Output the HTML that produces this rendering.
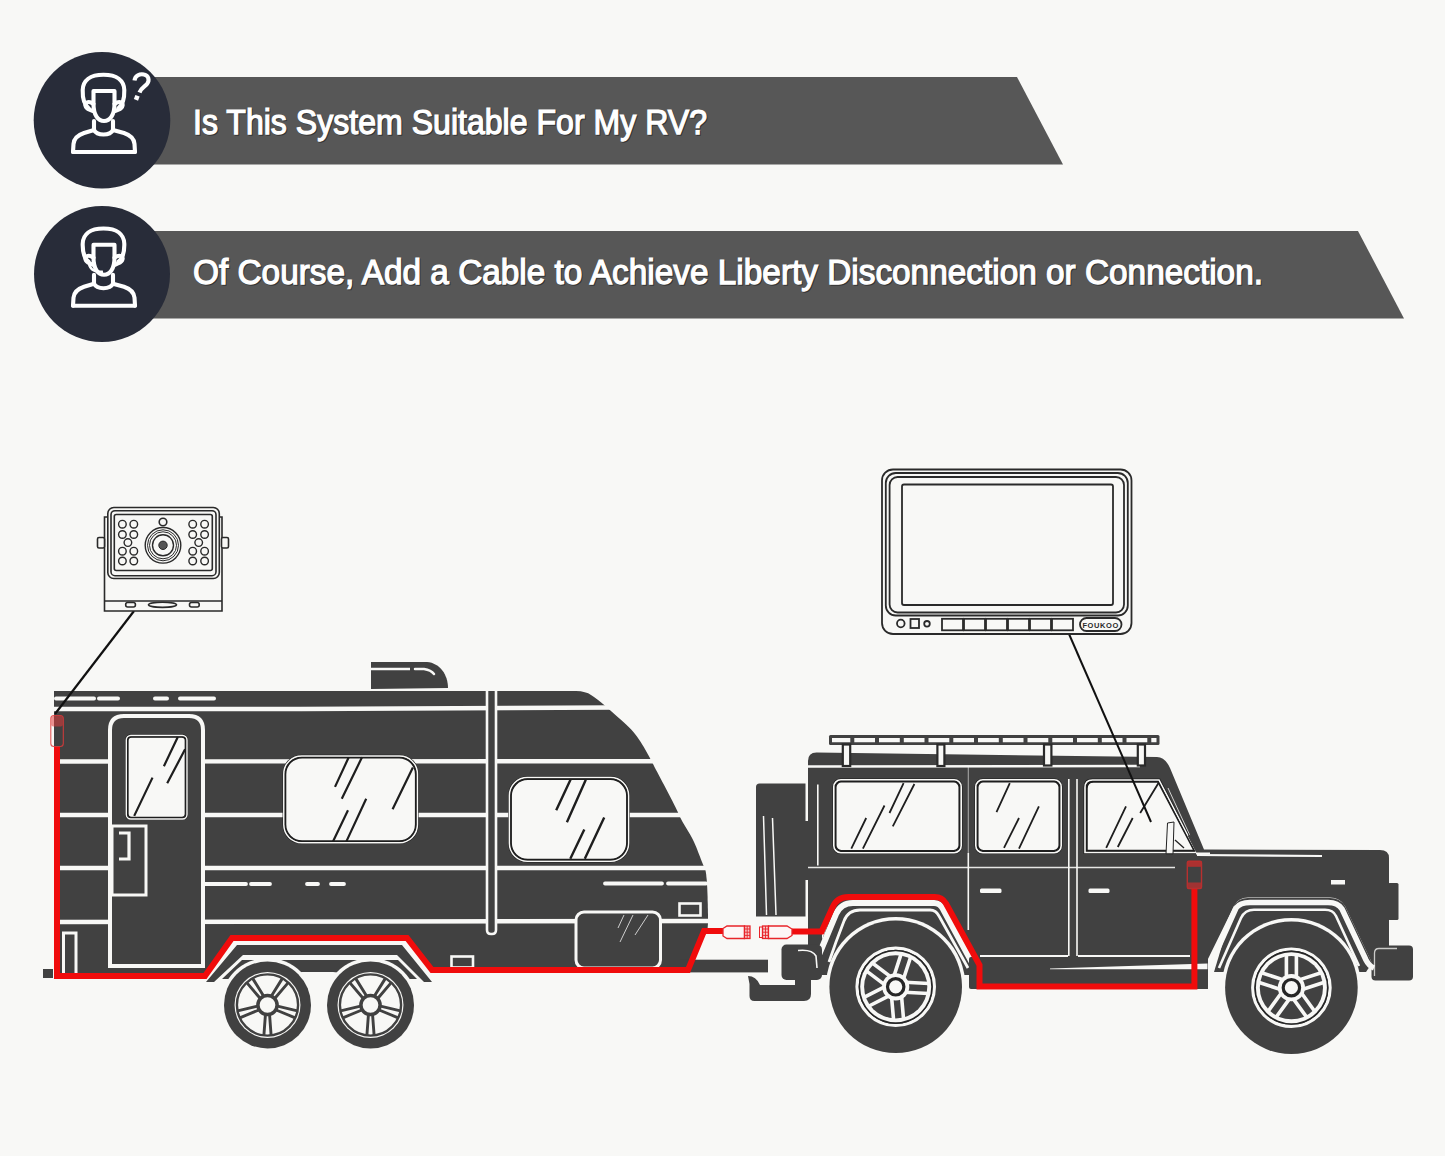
<!DOCTYPE html>
<html><head><meta charset="utf-8">
<style>
html,body{margin:0;padding:0;background:#f8f8f6;}
body{width:1445px;height:1156px;overflow:hidden;}
svg{display:block;}
text{font-family:"Liberation Sans",sans-serif;}
</style></head>
<body>
<svg width="1445" height="1156" viewBox="0 0 1445 1156">
<rect x="0" y="0" width="1445" height="1156" fill="#f8f8f6"/>

<!-- ===== HEADER BANNERS ===== -->
<polygon points="100,77 1017,77 1063,164.5 100,164.5" fill="#575757"/>
<polygon points="100,231 1358,231 1404,318.5 100,318.5" fill="#575757"/>
<circle cx="102" cy="120.3" r="68.3" fill="#282c39"/>
<circle cx="102" cy="274" r="68" fill="#282c39"/>

<!-- icon 1 -->
<g id="person" fill="none" stroke="#ffffff" stroke-width="4.1" stroke-linecap="round" stroke-linejoin="round">
  <path d="M73,152 L73.5,144 C74,138 78,135 84,133 L94,130 M113,130 L124,133 C130,135 134,138 134.5,144 L135,152"/>
  <path d="M73,152 L135,152"/>
  <path d="M94,121 L94,130 C97,136 110,136 113,130 L113,121"/>
  <path d="M93.5,91 L93.5,104 C93.5,115 98,121 104,121 C110,121 114.5,115 114.5,104 L114.5,91 Z"/>
  <path d="M88.5,108 C83.5,104 82.5,98 82.7,90 C83,80.5 90,74.8 103.5,74.8 C117,74.8 124,80.5 124.3,90 C124.5,98 123.5,104 118.5,108"/>
  <path d="M93.5,104 C88,100 84,103 86,107 C87,109 90,110 93,111"/>
  <path d="M114.5,104 C120,100 124,103 122,107 C121,109 118,110 115,111"/>
</g>
<g fill="none" stroke="#ffffff" stroke-width="4.1" stroke-linecap="butt">
  <path d="M134.5,80.5 C135,75.5 140,73.5 144,74.5 C148.5,75.5 150,80 147,84 C145,86.5 141,88 139.5,92.5"/>
</g>
<rect x="134.5" y="95.5" width="4.5" height="4.5" fill="#fff" transform="rotate(20 136.7 97.7)"/>

<!-- icon 2 -->
<g transform="translate(0,153.7)">
<g fill="none" stroke="#ffffff" stroke-width="4.1" stroke-linecap="round" stroke-linejoin="round">
  <path d="M73,152 L73.5,144 C74,138 78,135 84,133 L94,130 M113,130 L124,133 C130,135 134,138 134.5,144 L135,152"/>
  <path d="M73,152 L135,152"/>
  <path d="M94,121 L94,130 C97,136 110,136 113,130 L113,121"/>
  <path d="M93.5,91 L93.5,104 C93.5,115 98,121 104,121 C110,121 114.5,115 114.5,104 L114.5,91 Z"/>
  <path d="M88.5,108 C83.5,104 82.5,98 82.7,90 C83,80.5 90,74.8 103.5,74.8 C117,74.8 124,80.5 124.3,90 C124.5,98 123.5,104 118.5,108"/>
  <path d="M93.5,104 C88,100 84,103 86,107 C87,109 90,110 93,111"/>
  <path d="M114.5,104 C120,100 124,103 122,107 C121,109 118,110 115,111"/>
</g>
<path d="M89,110 C90,116 96,119 103,118" fill="none" stroke="#fff" stroke-width="2.6"/>
</g>

<!-- header text -->
<g font-size="35" fill="#000" opacity="0.4" stroke="#000" stroke-width="1.25">
<text x="194" y="135.2" textLength="514" lengthAdjust="spacingAndGlyphs">Is This System Suitable For My RV?</text>
<text x="194" y="285.2" textLength="1070" lengthAdjust="spacingAndGlyphs">Of Course, Add a Cable to Achieve Liberty Disconnection or Connection.</text>
</g>
<g font-size="35" fill="#ffffff" stroke="#ffffff" stroke-width="1.25">
<text x="193" y="133.6" textLength="514" lengthAdjust="spacingAndGlyphs">Is This System Suitable For My RV?</text>
<text x="193" y="283.6" textLength="1070" lengthAdjust="spacingAndGlyphs">Of Course, Add a Cable to Achieve Liberty Disconnection or Connection.</text>
</g>

<defs>
<g id="tw">
<circle r="47" fill="#f8f8f6"/>
<circle r="43.5" fill="#414141"/>
<circle r="33" fill="#f8f8f6"/>
<circle r="30.6" fill="none" stroke="#414141" stroke-width="2.4"/>
<g stroke="#414141" stroke-width="2.9" stroke-linecap="butt">
<path d="M2.08,9.78 L3.61,30.29 M-2.08,9.78 L-3.61,30.29 M-8.66,5.00 L-27.69,12.79 M-9.95,1.05 L-29.92,5.92 M-7.43,-6.69 L-20.72,-22.38 M-4.07,-9.14 L-14.88,-26.62 M4.07,-9.14 L14.88,-26.62 M7.43,-6.69 L20.72,-22.38 M9.95,1.05 L29.92,5.92 M8.66,5.00 L27.69,12.79 "/>
</g>
<circle r="9.6" fill="#f8f8f6" stroke="#414141" stroke-width="3.5"/>
</g>
<g id="jw">
<circle r="69.8" fill="#f8f8f6"/>
<circle r="66.3" fill="#414141"/>
<circle r="38.7" fill="none" stroke="#f8f8f6" stroke-width="3.2"/>
<circle r="36.3" fill="none" stroke="#262626" stroke-width="1.6"/>
<circle r="35.5" fill="#f8f8f6"/>
<circle r="31.6" fill="#414141"/>
<g stroke="#f8f8f6" stroke-width="3.6" fill="none">
<path d="M-1.97,-10.10 L5.44,-32.93 M7.54,-7.01 L14.95,-29.84 M9.25,-4.52 L33.22,-3.27 M8.73,5.46 L32.69,6.72 M5.77,8.53 L7.86,32.44 M-4.20,9.40 L-2.10,33.31 M-5.75,8.54 L-27.13,19.44 M-10.29,-0.37 L-31.67,10.53 M-10.20,-1.42 L-29.36,-15.87 M-4.18,-9.41 L-23.35,-23.85 "/>
</g>
<circle r="13.6" fill="#f8f8f6"/>
<circle r="8.2" fill="#f8f8f6" stroke="#262626" stroke-width="3.2"/>
</g>
<g id="jw2">
<circle r="69.8" fill="#f8f8f6"/>
<circle r="66.3" fill="#414141"/>
<circle r="38.7" fill="none" stroke="#f8f8f6" stroke-width="3.2"/>
<circle r="36.3" fill="none" stroke="#262626" stroke-width="1.6"/>
<circle r="35.5" fill="#f8f8f6"/>
<circle r="31.6" fill="#414141"/>
<g stroke="#f8f8f6" stroke-width="3.6" fill="none">
<path d="M-5.00,-9.00 L-5.00,-33.00 M5.00,-9.00 L5.00,-33.00 M7.01,-7.54 L29.84,-14.95 M10.10,1.97 L32.93,-5.44 M9.34,4.34 L23.44,23.76 M1.24,10.22 L15.35,29.64 M-1.24,10.22 L-15.35,29.64 M-9.34,4.34 L-23.44,23.76 M-10.10,1.97 L-32.93,-5.44 M-7.01,-7.54 L-29.84,-14.95 "/>
</g>
<circle r="13.6" fill="#f8f8f6"/>
<circle r="8.2" fill="#f8f8f6" stroke="#262626" stroke-width="3.2"/>
</g>
</defs>

<!-- ===== TRAILER ===== -->
<g id="trailer">
<!-- roof vent -->
<path d="M371,662 L427,662 C440,663 448,675 448,688 L371,689 Z" fill="#414141"/>
<path d="M371,669 L410,669" stroke="#f8f8f6" stroke-width="2.5"/>
<path d="M415,669 L424,669 Q431,670 434,674" stroke="#f8f8f6" stroke-width="2.5" fill="none" stroke-linecap="round"/>
<!-- body -->
<path d="M54,691 L576,691 Q586,691.3 591,695 L594.0,697.0 L597.4,699.5 L600.6,702.0 L603.6,704.5 L606.5,707.0 L609.3,709.5 L612.1,712.0 L614.9,714.5 L617.7,717.0 L620.6,719.5 L623.4,722.0 L626.1,724.5 L628.7,727.0 L631.2,729.5 L633.4,732.0 L635.4,734.5 L637.3,737.0 L639.0,739.5 L640.7,742.0 L642.2,744.5 L643.8,747.0 L645.2,749.5 L646.6,752.0 L648.0,754.5 L649.4,757.0 L650.7,759.5 L652.0,762.0 L653.3,764.5 L654.5,767.0 L655.8,769.5 L657.2,772.0 L658.5,774.5 L659.8,777.0 L661.1,779.5 L662.4,782.0 L663.8,784.5 L665.1,787.0 L666.4,789.5 L667.7,792.0 L669.0,794.5 L670.3,797.0 L671.6,799.5 L672.9,802.0 L674.1,804.5 L675.4,807.0 L676.6,809.5 L677.8,812.0 L678.9,814.5 L680.0,817.0 L681.3,819.5 L682.6,822.0 L684.1,824.5 L685.6,827.0 L687.1,829.5 L688.6,832.0 L690.1,834.5 L691.5,837.0 L692.8,839.5 L694.0,842.0 L695.1,844.5 L696.2,847.0 L697.2,849.5 L698.1,852.0 L699.1,854.5 L700.1,857.0 L701.0,859.5 L702.0,862.0 L703.0,864.5 L704.1,867.0 L705.3,869.5 L705.8,872.0 L706.2,874.5 L706.4,877.0 L706.7,879.5 L706.9,882.0 L707.0,884.5 L707.2,887.0 L707.3,889.5 L707.4,892.0 L707.5,894.5 L707.6,897.0 L707.6,899.5 L707.7,902.0 L707.8,904.5 L707.8,907.0 L707.9,909.5 L707.9,912.0 L708.0,914.5 L708.0,917.0 L708.0,919.5 L708.0,922.0 L707.9,924.5 L707.7,927.0 L707.6,929.5 L707.5,931 L707,931 L688,970 L432,970 L407,937.5 L232,937.5 L205,976 L54,976 Z" fill="#414141"/>
<!-- stripes -->
<g stroke="#f8f8f6" stroke-width="4" stroke-linecap="round" fill="none">
  <path d="M56,698.5 L94,698.5 M99,698.5 L118,698.5 M155,698.5 L167,698.5 M180,698.5 L214,698.5"/>
</g>
<g stroke="#f8f8f6" stroke-width="4.4" fill="none">
  <path d="M54,709 L300,709 L612,707.5"/>
  <path d="M54,761.5 L655,761.2"/>
  <path d="M54,815 L682,815"/>
  <path d="M54,868 L706,868"/>
  <path d="M54,922 L710,921"/>
</g>
<g stroke="#f8f8f6" stroke-width="3.8" stroke-linecap="round" fill="none">
  <path d="M205,884 L246,884 M251,884 L270,884 M307,884 L318,884 M331,884 L344,884 M605,883.5 L662,883.5 M668,883.5 L706,883.5"/>
</g>
<!-- pole -->
<path d="M487,691 L487,930 Q487,934 491,934 L492,934 Q496,934 496,930 L496,691" fill="#414141" stroke="#f8f8f6" stroke-width="2.6"/>
<!-- door -->
<path d="M110,966 L110,730 Q110,716 124,716 L189,716 Q203,716 203,730 L203,966 Z" fill="#414141" stroke="#f8f8f6" stroke-width="4"/>
<rect x="125.3" y="734.5" width="62.7" height="85.5" rx="5" fill="#1e1e1e"/>
<rect x="126.3" y="735.5" width="60.7" height="83.5" rx="4.5" fill="none" stroke="#f8f8f6" stroke-width="1.4"/>
<rect x="128" y="737.2" width="57.3" height="80.1" rx="3.5" fill="#f8f8f6" stroke="#1e1e1e" stroke-width="1.3"/>
<path d="M177.8,737 L163.9,766.2 M185.1,749.2 L167.2,783.3 M152.5,777.6 L134.2,815.9" stroke="#1e1e1e" stroke-width="2.2"/>
<rect x="112" y="826" width="34" height="69" fill="none" stroke="#f8f8f6" stroke-width="3"/>
<path d="M119,833 L129,833 L129,859 L119,859" fill="none" stroke="#f8f8f6" stroke-width="3.2"/>
<path d="M63.5,973 L63.5,933 L76,933 L76,973" fill="none" stroke="#f8f8f6" stroke-width="3"/>
<!-- windows -->
<rect x="282.6" y="754.7" width="136" height="89.3" rx="19" fill="#1e1e1e"/>
<rect x="283.8" y="755.9" width="133.6" height="86.9" rx="18" fill="none" stroke="#f8f8f6" stroke-width="1.5"/>
<rect x="285.6" y="757.7" width="130" height="83.3" rx="16.5" fill="#f8f8f6" stroke="#1e1e1e" stroke-width="1.4"/>
<path d="M348.5,757.8 L335,786.9 M362,757.3 L341.8,798.8 M366.2,798.8 L346.4,841.4 M348,810.2 L333,841.4 M412.9,767.6 L392.6,809.2" stroke="#1e1e1e" stroke-width="2.2"/>
<rect x="508.2" y="776.3" width="121.6" height="86.2" rx="19" fill="#1e1e1e"/>
<rect x="509.4" y="777.5" width="119.2" height="83.8" rx="18" fill="none" stroke="#f8f8f6" stroke-width="1.5"/>
<rect x="511.2" y="779.3" width="115.6" height="80.2" rx="16.5" fill="#f8f8f6" stroke="#1e1e1e" stroke-width="1.4"/>
<path d="M570.7,779.2 L556.2,810.2 M585.8,779.7 L566.9,822.3 M584.3,829.6 L570.3,858.7 M604.2,817.5 L584.8,858.7" stroke="#1e1e1e" stroke-width="2.4"/>
<!-- storage door -->
<rect x="576" y="912" width="84.5" height="56" rx="8" fill="#414141" stroke="#f8f8f6" stroke-width="3"/>
<path d="M624,915 L618,928 M633,915 L620,942 M648,915 L635,935" stroke="#cfcfcf" stroke-width="1"/>
<rect x="679.5" y="903.5" width="21" height="12" fill="none" stroke="#f8f8f6" stroke-width="2.6"/>
<rect x="451.5" y="956.5" width="21.5" height="11" fill="none" stroke="#f8f8f6" stroke-width="2.6"/>
<!-- bumper stub -->
<rect x="43" y="969" width="10" height="9" fill="#414141"/>
<!-- hitch bar -->
<rect x="680" y="959.7" width="88" height="12.7" fill="#414141"/>
<!-- fender -->
<path d="M206,982 L237,945 L402,945 L432,982 L424,982 L397,955 L243,955 L214,982 Z" fill="#414141"/>
<path d="M222,979 L242,960 L398,960 L417,979 L395,979 L333,972 L302,972 L245,979 Z" fill="#414141"/>
<!-- wheels -->
<use href="#tw" x="267.5" y="1005"/>
<use href="#tw" x="370.5" y="1005"/>
</g>

<!-- ===== JEEP ===== -->
<g id="jeep">
<!-- spare tire -->
<path d="M756,916.5 L756,787 Q756,783.5 759.5,783.5 L805.5,783.5 L805.5,916.5 Z" fill="#414141"/>
<rect x="805" y="821" width="4" height="59" fill="#414141"/>
<path d="M763.5,816 Q765,870 766.5,915 M772.5,818 Q774.5,870 776,915" stroke="#f8f8f6" stroke-width="1.5" fill="none"/>
<!-- body -->
<path d="M808,945.5 L808,761 Q808,752.5 816.5,752.5 L1157,757 Q1165,757 1170,768 L1204,849.5 L1380,850 Q1389,850 1389,858 L1389,946 L1372,963 L1345,906 Q1340,897.5 1330,897.5 L1248,897.5 Q1238,897.5 1234,906 L1206,963 L1208,989 L976,989 L979,965 L946,902 Q942,895.5 935,895.5 L849,895.5 Q838,895.5 833,906.6 L822,931 L822,945.5 Z" fill="#414141"/>
<rect x="1388" y="883" width="10.5" height="37" rx="1.5" fill="#414141"/>
<rect x="1371.5" y="945.5" width="41.5" height="35" rx="4" fill="#414141"/>
<path d="M1374.5,976 L1374.5,953 Q1374.5,948.5 1379,948.5 L1397,948.5" stroke="#f8f8f6" stroke-width="1.3" fill="none" opacity="0.75"/>
<!-- arch interiors -->
<path d="M812,975 L822,940 L834,907 Q839,897 849,897 L937,897 Q943,897 946,903 L980,968 L980,975 Z" fill="#414141"/>
<path d="M1214,972 L1234,906 Q1238,898 1248,898 L1330,898 Q1340,898 1345,906 L1372,963 L1366,972 Z" fill="#414141"/>
<!-- arch white bands -->
<g fill="none" stroke="#f8f8f6" stroke-linejoin="round">
  <path d="M818,957 L826,938 L836,914 Q841,903 853,903 L934,903 Q940,903 943,909 L975,968" stroke-width="6"/>
  <path d="M829,962 L836,942 L844,921 Q848,910 860,910 L930,910 Q936,910 939,916 L968,968" stroke-width="2.8"/>
  <path d="M1195,966 L1207,966 Q1212,964 1214,957 L1236,908 Q1240,902.5 1250,902.5 L1328,902.5 Q1338,902.5 1342,909 L1366,960 Q1369,966 1374,968" stroke-width="5.5"/>
  <path d="M1219,968 L1241,918 Q1245,909.8 1254,909.8 L1325,909.8 Q1333,909.8 1336,916 L1359,966" stroke-width="2.6"/>
</g>
<!-- rocker -->
<rect x="969" y="957" width="239" height="32" rx="2" fill="#414141"/>
<path d="M1050,968.6 L1207.5,963.5 L1207.5,969.3 L1050,969.3 Z" fill="#f8f8f6"/>
<!-- roof line, beltline, seams -->
<g stroke="#f8f8f6" fill="none">
  <path d="M808,766.5 L1140,766" stroke-width="2.4"/>
  <path d="M808,867.5 L1175,867.5" stroke-width="1.5" opacity="0.9"/>
  <path d="M968.3,767 L968.3,853" stroke-width="1.1" opacity="0.55"/>
  <path d="M968.3,853 L968.3,930" stroke-width="1.6"/>
  <path d="M1068.8,779 L1068.8,956 M1077,779 L1077,956" stroke-width="1.6"/>
  <path d="M980,956 L1068,956 M1078,956 L1190,956" stroke-width="2"/>
  <path d="M806.8,783.5 L806.8,821 M806.8,880 L806.8,915 M817.8,784.5 L817.8,865.5" stroke-width="1.6"/>
  <path d="M1197,855 L1322,856" stroke-width="2.2"/>
</g>
<!-- roof rack -->
<rect x="829" y="735" width="330.5" height="10" rx="1.5" fill="#414141"/>
<g stroke="#f8f8f6" stroke-width="4.2">
<path d="M832,740.2 L850.3,740.2 M854.3,740.2 L875.0,740.2 M879.0,740.2 L899.8,740.2 M903.8,740.2 L924.5,740.2 M928.5,740.2 L949.3,740.2 M953.3,740.2 L974.0,740.2 M978.0,740.2 L998.8,740.2 M1002.8,740.2 L1023.5,740.2 M1027.5,740.2 L1048.3,740.2 M1052.3,740.2 L1073.0,740.2 M1077.0,740.2 L1097.8,740.2 M1101.8,740.2 L1122.5,740.2 M1126.5,740.2 L1147.3,740.2 M1151.3,740.2 L1156.5,740.2"/>
</g>
<g fill="#f8f8f6" stroke="#2a2a2a" stroke-width="2.2">
<rect x="842.8" y="744.5" width="7.4" height="21.5"/>
<rect x="937.4" y="744.5" width="7" height="21.5"/>
<rect x="1044" y="744.5" width="7.4" height="21"/>
<rect x="1137.8" y="744.5" width="7.2" height="21"/>
</g>
<!-- A pillar highlight -->
<path d="M1168,788 L1198,853" stroke="#f8f8f6" stroke-width="1" opacity="0.8"/>
<!-- windows -->
<rect x="832.5" y="778.5" width="130" height="75.5" rx="8" fill="#1e1e1e"/>
<rect x="833.8" y="779.8" width="127.4" height="72.9" rx="7" fill="none" stroke="#f8f8f6" stroke-width="1.6"/>
<rect x="835.8" y="781.8" width="123.4" height="68.9" rx="5.5" fill="#f8f8f6" stroke="#1e1e1e" stroke-width="1.5"/>
<path d="M903.6,783.1 L889.5,813 M914.4,784 L892.8,826.3 M884.5,805.5 L862.9,848.7 M866.2,818 L851.3,848.7" stroke="#1e1e1e" stroke-width="1.8"/>
<rect x="974.5" y="778.5" width="88" height="75.5" rx="8" fill="#1e1e1e"/>
<rect x="975.8" y="779.8" width="85.4" height="72.9" rx="7" fill="none" stroke="#f8f8f6" stroke-width="1.6"/>
<rect x="977.8" y="781.8" width="81.4" height="68.9" rx="5.5" fill="#f8f8f6" stroke="#1e1e1e" stroke-width="1.5"/>
<path d="M1009.8,783.1 L996.5,812.2 M1038.9,806.4 L1019,848.7 M1019,818 L1004,847.9" stroke="#1e1e1e" stroke-width="1.8"/>
<path d="M1083.5,854 L1083.5,787 Q1083.5,778.5 1092,778.5 L1160,778.5 L1199,854 Z" fill="#1e1e1e"/>
<path d="M1085,852.5 L1085,787.5 Q1085,780 1092.5,780 L1159,780 L1196.5,852.5 Z" fill="none" stroke="#f8f8f6" stroke-width="1.6"/>
<path d="M1087,850.5 L1087,788.5 Q1087,782 1093.5,782 L1158,782 L1194,850.5 Z" fill="#f8f8f6" stroke="#1e1e1e" stroke-width="1.5"/>
<path d="M1126,806.4 L1106.2,847.9 M1132.7,818 L1117.8,847 M1158.5,783 L1140.2,813" stroke="#1e1e1e" stroke-width="1.8"/>
<path d="M1167.5,823 L1174,822 L1173,853.8 L1166,853.8 Z" fill="#f8f8f6" stroke="#222" stroke-width="1"/>
<path d="M1175,840 L1184,848" stroke="#222" stroke-width="1.4"/>
<path d="M1189,835 L1198,853" stroke="#414141" stroke-width="3"/>
<path d="M1196,853.5 L1210,853.5" stroke="#f8f8f6" stroke-width="2"/>
<!-- handles, indicator -->
<rect x="980" y="888.5" width="21.5" height="4.5" rx="1.5" fill="#f8f8f6"/>
<rect x="1088.5" y="888.5" width="21" height="4.5" rx="1.5" fill="#f8f8f6"/>
<rect x="1331" y="880" width="14" height="4.5" fill="#f8f8f6"/>
<!-- tow box & hitch -->
<rect x="781.5" y="944.5" width="40.5" height="35.5" rx="5" fill="#414141"/>
<path d="M749.5,984 L749.5,996 Q749.5,1001 754.5,1001 L804,1001 Q811,1001 811,994 L811,978 L795,978 L795,985 L760,985 Q756,976 748,976 Z" fill="#414141"/>
<path d="M798,950.5 Q812,949 816,956 L817,968" stroke="#f8f8f6" stroke-width="1.6" fill="none"/>
<!-- wheels -->
<use href="#jw" x="895.7" y="986.8"/>
<use href="#jw2" x="1291.4" y="987.7"/>
</g>

<!-- ===== RED CABLE ===== -->
<g id="cable" fill="none" stroke="#f00c0c" stroke-width="6" stroke-linejoin="miter">
  <path d="M57,747 L57,976 L205,976 L232,938 L407,938 L432,970 L688,970 L704,931 L723,931"/>
  <path d="M792,931.6 L821.6,931.6 L832.5,907.5 Q837,897 848.3,897 L935,897 Q942,897 946,903.5 L979.5,965 L979.5,986.5 L1194.4,986.5 L1194.4,888"/>
</g>
<!-- connectors -->
<g stroke="#e8242a" stroke-width="1" fill="#fdf6f6">
  <rect x="50.8" y="715.5" width="12.5" height="31" rx="3" fill="none" stroke="#e23a3a" stroke-width="1.1" opacity="0.85"/>
  <rect x="51.3" y="716" width="11.5" height="10.5" rx="2" fill="#e23a3a" stroke="none" opacity="0.55"/>
  <rect x="1187.3" y="861.3" width="14.2" height="27.2" rx="1.5" fill="none" stroke="#b8302f" stroke-width="1.4"/>
  <rect x="1187.3" y="861.3" width="14.2" height="5.5" fill="#b8302f" stroke="none" opacity="0.9"/>
  <rect x="1187.3" y="882.5" width="14.2" height="6" fill="#b8302f" stroke="none" opacity="0.8"/>
  <!-- c1 -->
  <path d="M723,928.5 L727,926 L744.5,926 L744.5,938.5 L727,938.5 L723,936 Z" stroke-width="1.3"/>
  <rect x="744.5" y="926" width="5.5" height="12.5" fill="#f7c9c9" stroke-width="1.3"/>
  <path d="M744.5,929 L750,929 M744.5,932.2 L750,932.2 M744.5,935.4 L750,935.4 M747.2,926 L747.2,938.5" stroke-width="0.9"/>
  <!-- c2 -->
  <rect x="759.5" y="927" width="3" height="10.5" stroke-width="1"/>
  <rect x="762.5" y="926" width="6" height="12.5" fill="#f7c9c9" stroke-width="1.3"/>
  <path d="M762.5,929 L768.5,929 M762.5,932.2 L768.5,932.2 M762.5,935.4 L768.5,935.4 M765.5,926 L765.5,938.5" stroke-width="0.9"/>
  <path d="M768.5,926 L787,926 L792,929 L792,935.5 L787,938.5 L768.5,938.5 Z" stroke-width="1.3"/>
</g>
<!-- pointer lines -->
<path d="M134,611 L55,714" stroke="#111" stroke-width="2.2" fill="none"/>
<path d="M1069,634 L1151,822" stroke="#111" stroke-width="2" fill="none"/>

<!-- ===== MONITOR ===== -->
<g fill="none" stroke="#2a2a2a" stroke-width="1.8">
  <rect x="882" y="469.5" width="249.5" height="164.5" rx="11" fill="#f8f8f6"/>
  <rect x="885.8" y="473" width="242" height="142.5" rx="10"/>
  <rect x="889.6" y="477" width="234.4" height="135.5" rx="8"/>
  <rect x="902" y="484.5" width="211" height="120.5" rx="2"/>
  <circle cx="900.8" cy="623.5" r="3.8"/>
  <rect x="910.5" y="619" width="8.5" height="9"/>
  <circle cx="927" cy="623.8" r="2.8"/>
  <rect x="942" y="618.8" width="21" height="11.5"/>
  <rect x="964" y="618.8" width="21" height="11.5"/>
  <rect x="986" y="618.8" width="21" height="11.5"/>
  <rect x="1008" y="618.8" width="21" height="11.5"/>
  <rect x="1030" y="618.8" width="21" height="11.5"/>
  <rect x="1052" y="618.8" width="21" height="11.5"/>
  <rect x="1080" y="618" width="41.5" height="13" rx="6.5"/>
</g>
<text x="1100.7" y="627.5" font-size="7.5" font-weight="bold" text-anchor="middle" fill="#2a2a2a" letter-spacing="0.6">FOUKOO</text>

<!-- ===== CAMERA ===== -->
<g fill="none" stroke="#2a2a2a" stroke-width="1.6">
  <path d="M104.5,611 L104.5,517 L222,517 L222,611 Z" fill="#f8f8f6"/>
  <rect x="97.5" y="537.5" width="7" height="10.5" rx="1.5" fill="#f8f8f6"/>
  <rect x="221.5" y="537.5" width="7" height="10.5" rx="1.5" fill="#f8f8f6"/>
  <rect x="107.8" y="507.5" width="111.5" height="71" rx="6" fill="#f8f8f6"/>
  <rect x="111" y="510.7" width="105" height="65" rx="4"/>
  <rect x="114.3" y="514.5" width="98" height="56" rx="2"/>
  <path d="M104.5,601 L222,601" stroke-width="1.4"/>
  <rect x="125.7" y="602.5" width="9.7" height="4.5" rx="2"/>
  <rect x="189.5" y="602.5" width="9.7" height="4.5" rx="2"/>
  <ellipse cx="162.5" cy="604.8" rx="14" ry="2.6"/>
  <circle cx="163" cy="522" r="3.8"/>
  <circle cx="163" cy="545.3" r="17.8" stroke-width="1.4"/>
  <circle cx="163" cy="545.3" r="15.5" stroke-width="1"/>
  <circle cx="163" cy="545.3" r="13.5" stroke-width="1"/>
  <circle cx="163" cy="545.3" r="10.5" stroke-width="1.4"/>
  <circle cx="163" cy="545.3" r="4.2" fill="#555" stroke-width="1"/>
  <g stroke-width="1.4">
  <circle cx="122.4" cy="524.2" r="3.8"/><circle cx="133.8" cy="524.2" r="3.8"/>
  <circle cx="122.4" cy="534.5" r="3.8"/><circle cx="133.8" cy="534.5" r="3.8"/>
  <circle cx="127.9" cy="542.6" r="3.8"/>
  <circle cx="122.4" cy="551.2" r="3.8"/><circle cx="133.8" cy="551.2" r="3.8"/>
  <circle cx="122.4" cy="561" r="3.8"/><circle cx="133.8" cy="561" r="3.8"/>
  <circle cx="192.7" cy="524.2" r="3.8"/><circle cx="204.6" cy="524.2" r="3.8"/>
  <circle cx="192.7" cy="534.5" r="3.8"/><circle cx="204.6" cy="534.5" r="3.8"/>
  <circle cx="198.7" cy="542.6" r="3.8"/>
  <circle cx="192.7" cy="551.2" r="3.8"/><circle cx="204.6" cy="551.2" r="3.8"/>
  <circle cx="192.7" cy="561" r="3.8"/><circle cx="204.6" cy="561" r="3.8"/>
  </g>
</g>


</svg>
</body></html>
